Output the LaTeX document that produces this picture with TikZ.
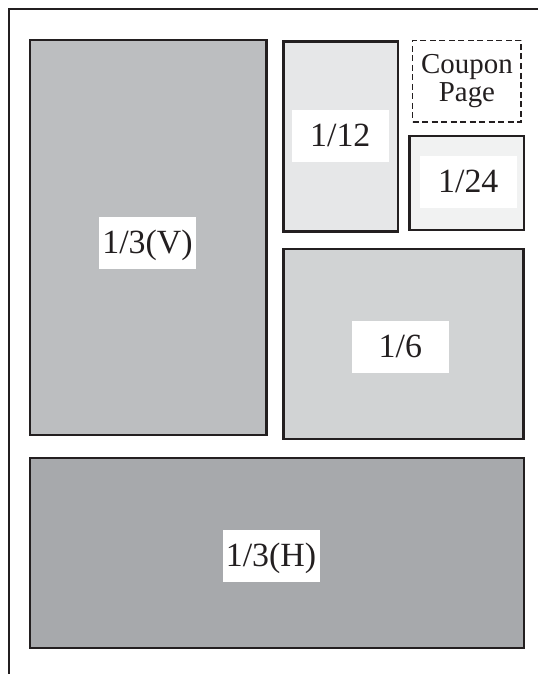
\documentclass[tikz,border=0pt]{standalone}
\usepackage{fontspec}
\setmainfont{Liberation Serif}
\definecolor{ink}{HTML}{231F20}
\definecolor{gV}{HTML}{BCBEC0}
\definecolor{gXII}{HTML}{E6E7E8}
\definecolor{gXXIV}{HTML}{F1F2F2}
\definecolor{gVI}{HTML}{D1D3D4}
\definecolor{gH}{HTML}{A7A9AC}
\begin{document}
\begin{tikzpicture}[x=1bp,y=-1bp,
  panel/.style={draw=ink, line width=2.4bp, anchor=north west, inner sep=0pt, outer sep=0pt},
  coupon/.style={draw=ink, line width=1.5bp, dash pattern=on 6bp off 3.5bp, anchor=north west, inner sep=0pt, outer sep=0pt, align=center, text=ink, font=\fontsize{29}{27.6}\selectfont},
  lbl/.style={fill=white, minimum width=97bp, minimum height=52bp, inner sep=0pt, outer sep=0pt, text height=22bp, text depth=0pt, text=ink, font=\fontsize{34}{34}\selectfont},
  frame/.style={draw=ink, line width=2bp}
]
\useasboundingbox (0,0) rectangle (538,674);
\fill[white] (0,0) rectangle (538,674);
\draw[frame] (9,674) -- (9,9) -- (538,9);

\node[panel, fill=gV, minimum width=236.5bp, minimum height=395bp] (V) at (30,40) {};
\node[panel, fill=gXII, minimum width=114.4bp, minimum height=189.8bp] (P12) at (283.3,41.7) {};
\node[coupon, minimum width=108.5bp, minimum height=81.5bp] (C) at (412.7,40.5) {Coupon\\Page};
\node[panel, fill=gXXIV, minimum width=114.5bp, minimum height=94.3bp] (P24) at (409.5,135.7) {};
\node[panel, fill=gVI, minimum width=240bp, minimum height=190bp] (P6) at (283.3,249) {};
\node[panel, fill=gH, minimum width=494bp, minimum height=190bp] (H) at (30,458) {};

\node[lbl] (lV) at (147.5,242.5) {1/3(V)};
\node[lbl] (l12) at (340.3,135.8) {1/12};
\node[lbl] (l24) at (468.3,181.8) {1/24};
\node[lbl] (l6) at (400.3,346.8) {1/6};
\node[lbl] (lH) at (271,555.8) {1/3(H)};
\end{tikzpicture}
\end{document}
